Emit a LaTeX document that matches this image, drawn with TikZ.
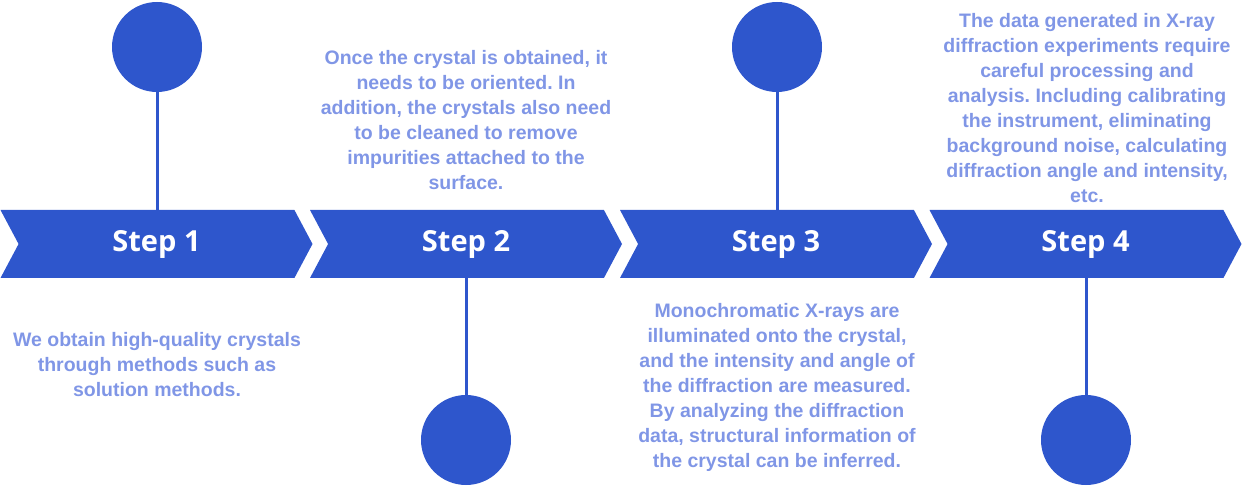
\documentclass[tikz,border=0pt]{standalone}
\usepackage{fontspec}
\setmainfont{Liberation Sans}
\newfontfamily\stepfont[BoldFont={Open Sans Bold}]{Open Sans}
\usetikzlibrary{shapes.symbols}
\definecolor{stepblue}{RGB}{46,86,204}
\definecolor{noteblue}{RGB}{128,150,230}
\frenchspacing
\tikzset{
    stepbox/.style = {signal, signal from=west, signal to=east, signal pointer angle=124,
        fill=stepblue, draw=none, inner sep=0pt, minimum width=312pt, minimum height=68pt,
        text=white, font=\stepfont\bfseries\fontsize{29}{29}\selectfont},
    dot/.style = {circle, fill=stepblue, draw=none, inner sep=0pt, minimum size=90pt},
    stem/.style = {stepblue, line width=3pt},
    note/.style = {text=noteblue, align=center, inner sep=0pt, font=\bfseries\fontsize{19.5}{25}\selectfont}
}
\begin{document}
\begin{tikzpicture}[x=1pt, y=-1pt]
        \useasboundingbox (0,0) rectangle (1243,486);
        
        %Steps
        \node[stepbox] (s1) at (156.5,244) {Step 1};
        \node[stepbox] (s2) at (466,244) {Step 2};
        \node[stepbox] (s3) at (776,244) {Step 3};
        \node[stepbox] (s4) at (1085.5,244) {Step 4};
        
        %Circles
        \node[dot] (c1) at (157,47) {};
        \node[dot] (c2) at (466,440) {};
        \node[dot] (c3) at (777,47) {};
        \node[dot] (c4) at (1086,440) {};
        
        %Stems
        \draw[stem] (c1.south) -- (c1.south |- s1.north);
        \draw[stem] (c2.north) -- (c2.north |- s2.south);
        \draw[stem] (c3.south) -- (c3.south |- s3.north);
        \draw[stem] (c4.north) -- (c4.north |- s4.south);
        
        %Notes
        \node[note] (n1) at (157,365) {We obtain high-quality crystals\\through methods such as\\solution methods.};
        \node[note] (n2) at (466,120) {Once the crystal is obtained, it\\needs to be oriented. In\\addition, the crystals also need\\to be cleaned to remove\\impurities attached to the\\surface.};
        \node[note] (n3) at (777,387) {Monochromatic X-rays are\\illuminated onto the crystal,\\and the intensity and angle of\\the diffraction are measured.\\By analyzing the diffraction\\data, structural information of\\the crystal can be inferred.};
        \node[note] (n4) at (1087,108) {The data generated in X-ray\\diffraction experiments require\\careful processing and\\analysis. Including calibrating\\the instrument, eliminating\\background noise, calculating\\diffraction angle and intensity,\\etc.};
\end{tikzpicture}
\end{document}
